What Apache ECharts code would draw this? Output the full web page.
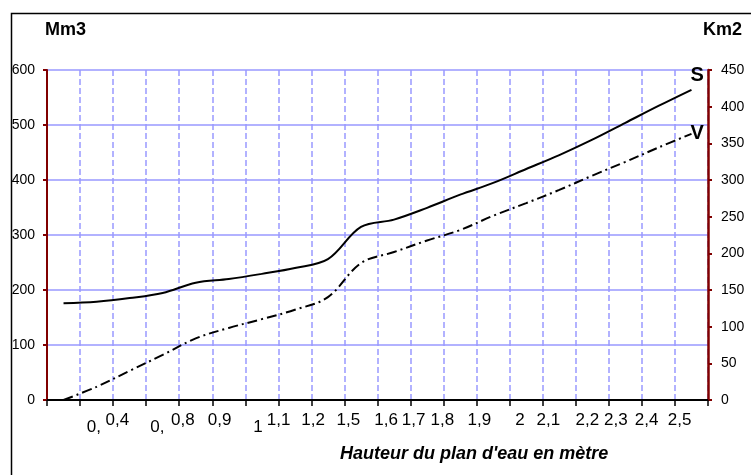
<!DOCTYPE html>
<html>
<head>
<meta charset="utf-8">
<script src="https://cdn.jsdelivr.net/npm/echarts@6/dist/echarts.min.js"></script>
<style>
  html, body { margin: 0; padding: 0; background: #ffffff; }
  #chart { width: 751px; height: 475px; }
</style>
</head>
<body>
<div id="chart"></div>
<script>
// Water height labels along the bottom axis and their positions (in step units, 0..20)
const heightLabels = ['0,', '0,4', '0,', '0,8', '0,9', '1', '1,1', '1,2', '1,5', '1,6', '1,7', '1,8', '1,9', '2', '2,1', '2,2', '2,3', '2,4', '2,5'];
const heightLabelPos = [1.42, 2.13, 3.34, 4.11, 5.22, 6.38, 7.01, 8.05, 9.12, 10.26, 11.09, 11.96, 13.08, 14.31, 15.17, 16.35, 17.21, 18.14, 19.14];
const droppedLabels = [0, 2, 5]; // labels set on the lower row

// Surface S (Km2, right axis) and volume V (Mm3, left axis), one value per step
const surface = [132, 134, 139, 146, 160, 165, 172, 180, 192, 236, 246, 262, 280, 296, 315, 334, 355, 378, 401, 423];
const volume = [0, 24, 53, 82, 112, 131, 147, 164, 187, 249, 269, 290, 309, 335, 358, 382, 408, 433, 459, 484];

const leftTicks = { min: 0, max: 600, interval: 100 };
const rightTicks = { min: 0, max: 450, interval: 50 };

const FONT = "'Liberation Sans', Arial, sans-serif";
const GRID_BLUE = '#9999ff';
const AXIS_RED = '#800000';

const toPairs = arr => arr.map((v, i) => [i + 0.5, v]);

const chart = echarts.init(document.getElementById('chart'), null, { renderer: 'canvas' });

chart.setOption({
  backgroundColor: '#ffffff',
  animation: false,
  textStyle: { fontFamily: FONT },
  title: [
    { text: 'Mm3', left: 45, top: 21, padding: 0,
      textStyle: { fontFamily: FONT, fontSize: 18, fontWeight: 'bold', color: '#000' } },
    { text: 'Km2', left: 703, top: 21, padding: 0,
      textStyle: { fontFamily: FONT, fontSize: 18, fontWeight: 'bold', color: '#000' } },
    { text: "Hauteur du plan d'eau en mètre", left: 340, top: 445, padding: 0,
      textStyle: { fontFamily: FONT, fontSize: 18, fontWeight: 'bold', fontStyle: 'italic', color: '#000' } }
  ],
  graphic: [
    { type: 'rect', left: 9, top: 11, silent: true, z: -1,
      shape: { width: 760, height: 480 },
      style: { fill: 'none', stroke: '#000', lineWidth: 1.5 } }
  ],
  grid: { left: 47, right: 43, top: 70, bottom: 75, containLabel: false },
  xAxis: [
    {
      type: 'value', min: 0, max: 20, interval: 1, position: 'bottom',
      axisLine: { show: true, onZero: false, lineStyle: { color: '#000', width: 2 } },
      axisTick: { show: true, length: 6, lineStyle: { color: '#000', width: 1.5 } },
      axisLabel: { show: false },
      splitLine: { show: true, lineStyle: { color: GRID_BLUE, width: 1.5, type: [6, 3] } }
    },
    {
      type: 'value', min: 0, max: 20, position: 'bottom',
      axisLine: { show: false, onZero: false },
      axisTick: { show: false },
      splitLine: { show: false },
      axisLabel: {
        show: true,
        customValues: heightLabelPos,
        margin: 12,
        fontSize: 17,
        color: '#000',
        fontFamily: FONT,
        verticalAlign: 'top',
        formatter: function (value) {
          let best = 0;
          for (let i = 1; i < heightLabelPos.length; i++) {
            if (Math.abs(heightLabelPos[i] - value) < Math.abs(heightLabelPos[best] - value)) best = i;
          }
          const txt = heightLabels[best];
          return droppedLabels.indexOf(best) >= 0 ? '{lo|' + txt + '}' : '{up|' + txt + '}';
        },
        rich: {
          up: { fontSize: 17, fontFamily: FONT, color: '#000' },
          lo: { fontSize: 17, fontFamily: FONT, color: '#000', padding: [7, 0, 0, 0] }
        }
      }
    }
  ],
  yAxis: [
    {
      type: 'value', position: 'left', ...leftTicks,
      axisLine: { show: true, onZero: false, lineStyle: { color: AXIS_RED, width: 2 } },
      axisTick: { show: true, length: 4, lineStyle: { color: AXIS_RED, width: 2 } },
      axisLabel: { color: '#000', fontSize: 14, fontFamily: FONT, margin: 12 },
      splitLine: { show: true, lineStyle: { color: GRID_BLUE, width: 1.5 } }
    },
    {
      type: 'value', position: 'right', ...rightTicks,
      axisLine: { show: true, onZero: false, lineStyle: { color: AXIS_RED, width: 2.5 } },
      axisTick: { show: true, length: 4, lineStyle: { color: AXIS_RED, width: 2 } },
      axisLabel: { color: '#000', fontSize: 14, fontFamily: FONT, margin: 13 },
      splitLine: { show: false }
    }
  ],
  series: [
    {
      name: 'S', type: 'line', xAxisIndex: 0, yAxisIndex: 1,
      data: toPairs(surface), smooth: 0.35, showSymbol: false, symbol: 'none',
      lineStyle: { color: '#000', width: 2 },
      endLabel: {
        show: true, formatter: 'S', offset: [-9, -14],
        fontSize: 20, fontWeight: 'bold', fontFamily: FONT, color: '#000'
      },
      z: 5
    },
    {
      name: 'V', type: 'line', xAxisIndex: 0, yAxisIndex: 0,
      data: toPairs(volume), smooth: 0.35, showSymbol: false, symbol: 'none',
      lineStyle: { color: '#000', width: 2, type: [10, 4, 2, 4] },
      endLabel: {
        show: true, formatter: 'V', offset: [-9, 0],
        fontSize: 20, fontWeight: 'bold', fontFamily: FONT, color: '#000'
      },
      z: 5
    }
  ]
});
</script>
</body>
</html>
